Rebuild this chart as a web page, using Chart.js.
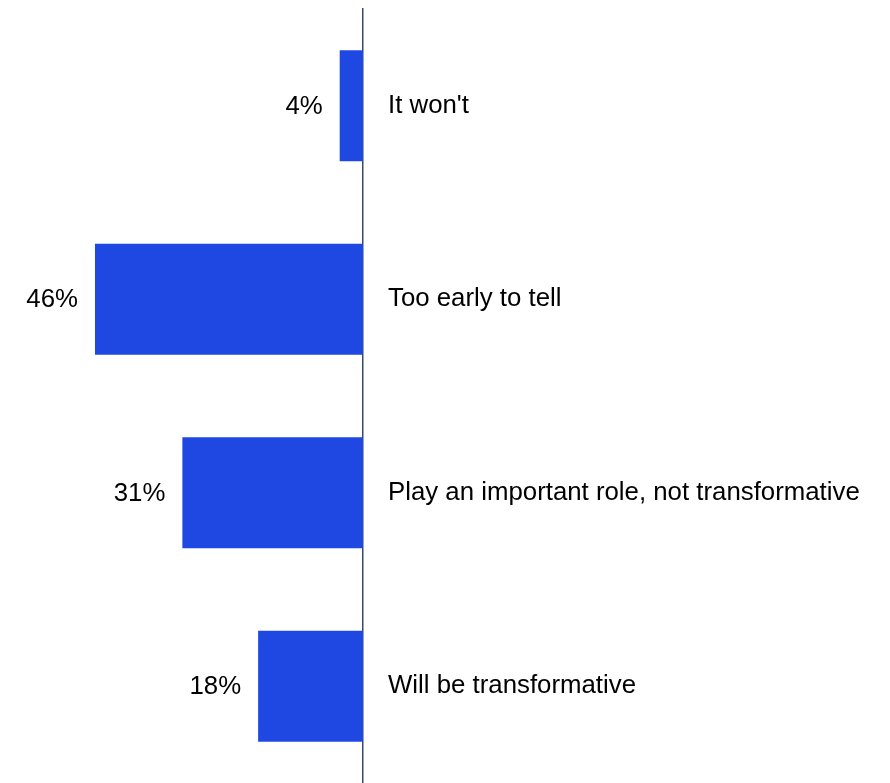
<!DOCTYPE html>
<html>
<head>
<meta charset="utf-8">
<script src="https://cdn.jsdelivr.net/npm/chart.js@4.4.1/dist/chart.umd.min.js"></script>
<style>
  html, body { margin: 0; padding: 0; background: #fff; }
  #wrap { width: 890px; height: 783px; }
</style>
</head>
<body>
<div id="wrap"><canvas id="myChart"></canvas></div>
<script>
const categories = ["It won't", "Too early to tell", "Play an important role, not transformative", "Will be transformative"];
const shares = [4, 46, 31, 18];

const ctx = document.querySelector("#myChart");

// labels de valor à esquerda das barras
const valueLabels = {
  id: 'valueLabels',
  afterDatasetsDraw(chart) {
    const c = chart.ctx;
    const meta = chart.getDatasetMeta(0);
    c.save();
    c.font = '25.8px "Liberation Sans", Arial, sans-serif';
    c.fillStyle = '#000';
    c.textAlign = 'right';
    c.textBaseline = 'middle';
    meta.data.forEach((bar, i) => {
      c.fillText(shares[i] + '%', bar.x - 17, bar.y + 1);
    });
    c.restore();
  }
};

new Chart(ctx, {
  type: 'bar',
  data: {
    labels: categories,
    datasets: [{
      data: shares,
      backgroundColor: '#1f48e2',
      borderWidth: 0,
      barPercentage: 0.574,
      categoryPercentage: 1
    }]
  },
  options: {
    indexAxis: 'y',
    responsive: true,
    maintainAspectRatio: false,
    animation: false,
    layout: { padding: { top: 9, bottom: 0, left: 0, right: 0 } },
    plugins: { legend: { display: false }, tooltip: { enabled: false } },
    scales: {
      x: { display: false, min: 0, max: 62.3, reverse: true },
      y: {
        position: 'right',
        grid: { display: false, drawTicks: false },
        border: { display: true, color: '#3b4a6b', width: 1.5 },
        ticks: {
          padding: 25,
          color: '#000',
          font: { family: '"Liberation Sans", Arial, sans-serif', size: 25.8 }
        },
        afterFit(scale) {
          scale.width = 527;
          scale.paddingTop = 0;
          scale.paddingBottom = 0;
        }
      }
    }
  },
  plugins: [valueLabels]
});
</script>
</body>
</html>
